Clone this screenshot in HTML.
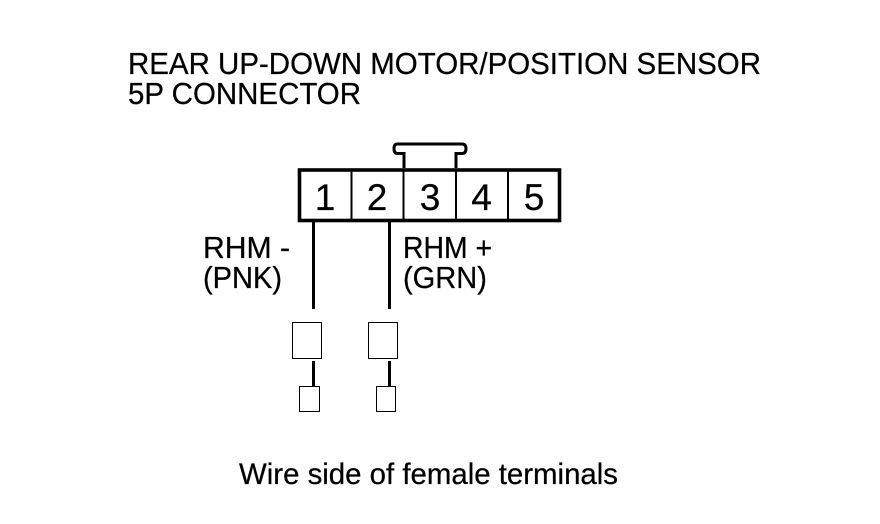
<!DOCTYPE html>
<html><head><meta charset="utf-8"><style>
html,body{margin:0;padding:0;background:#fff}
svg{display:block}
text{font-family:"Liberation Sans",sans-serif;fill:#000;stroke:#000;stroke-width:.25}
</style></head><body>
<svg width="880" height="524" viewBox="0 0 880 524" xmlns="http://www.w3.org/2000/svg">
<rect width="880" height="524" fill="#fff"/>
<text x="128" y="74" font-size="30.500" textLength="633" lengthAdjust="spacingAndGlyphs">REAR UP-DOWN MOTOR/POSITION SENSOR</text>
<text x="128" y="104" font-size="30.500" textLength="233" lengthAdjust="spacingAndGlyphs">5P CONNECTOR</text>
<path d="M404 168V153.500H397.500Q394 153.500 394 148.500Q394 144 397.500 144H462Q466 144 466 148.500Q466 153.500 462 153.500H456V168" fill="none" stroke="#000" stroke-width="3"/>
<rect x="299.500" y="170" width="260" height="50.500" fill="none" stroke="#000" stroke-width="3.600"/>
<path d="M351.500 170V220M403.500 170V220M456 170V220M508 170V220" stroke="#000" stroke-width="2"/>
<g font-size="37" text-anchor="middle" style="stroke-width:.5">
<text x="325" y="210">1</text><text x="377" y="210">2</text><text x="430" y="210">3</text><text x="481.500" y="210">4</text><text x="534" y="210">5</text>
</g>
<path d="M313.500 222V309M389.500 222V309M313.500 361V386M389.500 361V386" stroke="#000" stroke-width="3"/>
<g font-size="30.500">
<text x="203" y="258" textLength="87" lengthAdjust="spacingAndGlyphs">RHM -</text>
<text x="203" y="288" textLength="79" lengthAdjust="spacingAndGlyphs">(PNK)</text>
<text x="403" y="258" textLength="89" lengthAdjust="spacingAndGlyphs">RHM +</text>
<text x="403" y="288" textLength="84" lengthAdjust="spacingAndGlyphs">(GRN)</text>
</g>
<g fill="none" stroke="#000" stroke-width="1">
<rect x="292.500" y="322.500" width="29" height="36"/>
<rect x="368.500" y="322.500" width="29" height="36"/>
<rect x="299.500" y="386.500" width="20" height="25"/>
<rect x="376.500" y="386.500" width="19" height="25"/>
</g>
<text x="239" y="484" font-size="30" textLength="379" lengthAdjust="spacingAndGlyphs">Wire side of female terminals</text>
</svg>
</body></html>
